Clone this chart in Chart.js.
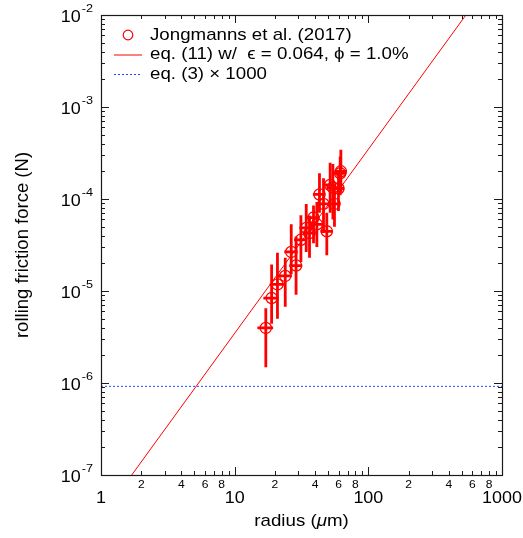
<!DOCTYPE html>
<html>
<head>
<meta charset="utf-8">
<script src="https://cdn.jsdelivr.net/npm/chart.js@4.4.1/dist/chart.umd.min.js"></script>
<style>
  html, body { margin: 0; padding: 0; background: #fff; }
  canvas { display: block; }
</style>
</head>
<body>
<canvas id="c" width="523" height="538"></canvas>
<script>
// Measured rolling friction forces (Jongmanns et al. 2017)
const radius    = [17.1, 18.9, 20.9, 23.9, 26.5, 28.8, 31.3, 34.3, 36.3, 38.9, 41.2, 43.1, 46.2, 48.9, 51.8, 54.3, 55.8, 59.8, 62.3, 61.6];
const radiusErr = [2.3, 2.5, 2.6, 2.9, 3.0, 3.2, 3.5, 3.8, 4.0, 4.2, 4.4, 4.6, 4.9, 5.1, 5.3, 5.6, 5.8, 6.1, 6.3, 6.3];
const force     = [3.97e-6, 8.37e-6, 1.18e-5, 1.46e-5, 2.66e-5, 1.89e-5, 3.6e-5, 4.85e-5, 4.27e-5, 6.28e-5, 5.3e-5, 1.12e-4, 8.85e-5, 4.45e-5, 1.42e-4, 1.33e-4, 8.85e-5, 1.30e-4, 2.0e-4, 1.9e-4];
const forceLow  = [1.48e-6, 4.4e-6, 5.0e-6, 6.75e-6, 1.52e-5, 9.1e-6, 2.06e-5, 2.66e-5, 2.3e-5, 3.3e-5, 3.0e-5, 7.1e-5, 4.27e-5, 2.44e-5, 7.1e-5, 6.0e-5, 5.0e-5, 7.4e-5, 1.19e-4, 1.1e-4];
const forceHigh = [6.5e-6, 1.94e-5, 2.6e-5, 2.3e-5, 5.3e-5, 3.92e-5, 6.67e-5, 8.85e-5, 6.6e-5, 8.5e-5, 9.3e-5, 1.91e-4, 1.68e-4, 7.1e-5, 2.48e-4, 2.4e-4, 1.42e-4, 2.0e-4, 3.43e-4, 2.9e-4];

// eq. (11) model line end points and eq. (3) x 1000 level
const modelRadius = [1, 1000];
const modelForce  = [3.47e-8, 3.47e-2];
const floorRadius = [1, 1000];
const floorForce  = [9.2e-7, 9.2e-7];

// Axis ticks
const xMajorTicks = [1, 10, 100, 1000];
const xMinorLabels = [2, 4, 6, 8];
const yMajorExponents = [-7, -6, -5, -4, -3, -2];

const legendLabels = [
  'Jongmanns et al. (2017)',
  'eq. (11) w/  \u03F5 = 0.064, \u03D5 = 1.0%',
  'eq. (3) \u00D7 1000'
];
const xTitle = ['radius (', '\u03BC', 'm)'];
const yTitle = 'rolling friction force (N)';

const FONT = '"Liberation Sans", Arial, Helvetica, sans-serif';
const RED = '#ff0000';
const BLUE = '#2448ff';

function drawText(ctx, s, x, y, size, align, sx, style) {
  ctx.save();
  ctx.font = (style || '') + ' ' + size + 'px ' + FONT;
  ctx.textBaseline = 'middle';
  ctx.textAlign = 'left';
  const w = ctx.measureText(s).width * sx;
  let x0 = x;
  if (align === 'center') x0 = x - w / 2;
  else if (align === 'right') x0 = x - w;
  ctx.translate(x0, y);
  ctx.scale(sx, 1);
  ctx.fillText(s, 0, 0);
  ctx.restore();
  return w;
}
function textWidth(ctx, s, size, sx, style) {
  ctx.save();
  ctx.font = (style || '') + ' ' + size + 'px ' + FONT;
  const w = ctx.measureText(s).width * sx;
  ctx.restore();
  return w;
}

const errorBars = {
  id: 'errorBars',
  beforeDatasetsDraw(chart) {
    const { ctx, chartArea: a } = chart;
    const xs = chart.scales.x, ys = chart.scales.y;
    ctx.save();
    ctx.beginPath();
    ctx.rect(a.left, a.top, a.right - a.left, a.bottom - a.top);
    ctx.clip();
    ctx.strokeStyle = RED;
    ctx.lineWidth = 2.8;
    ctx.lineCap = 'butt';
    for (let i = 0; i < radius.length; i++) {
      const px = xs.getPixelForValue(radius[i]);
      const py = ys.getPixelForValue(force[i]);
      ctx.beginPath();
      ctx.moveTo(px, ys.getPixelForValue(forceLow[i]));
      ctx.lineTo(px, ys.getPixelForValue(forceHigh[i]));
      ctx.moveTo(xs.getPixelForValue(radius[i] - radiusErr[i]), py);
      ctx.lineTo(xs.getPixelForValue(radius[i] + radiusErr[i]), py);
      ctx.stroke();
    }
    ctx.restore();
  }
};

const frameAndLabels = {
  id: 'frameAndLabels',
  afterDraw(chart) {
    const { ctx, chartArea: a } = chart;
    const xs = chart.scales.x, ys = chart.scales.y;
    ctx.save();
    ctx.fillStyle = '#000';
    ctx.strokeStyle = '#1a1a1a';
    ctx.lineWidth = 1;

    // tick marks on all four sides, pointing inward
    ctx.beginPath();
    for (let k = 0; k <= 3; k++) {
      for (let m = 1; m <= 9; m++) {
        const v = m * Math.pow(10, k);
        if (v > 1000) break;
        const px = Math.round(xs.getPixelForValue(v)) + 0.5;
        const len = m === 1 ? 8 : 4;
        ctx.moveTo(px, a.bottom); ctx.lineTo(px, a.bottom - len);
        ctx.moveTo(px, a.top); ctx.lineTo(px, a.top + len);
      }
    }
    for (let e = -7; e <= -2; e++) {
      for (let m = 1; m <= 9; m++) {
        const v = m * Math.pow(10, e);
        if (v > 1e-2 * 1.0001) break;
        const py = Math.round(ys.getPixelForValue(v)) + 0.5;
        const len = m === 1 ? 8 : 4;
        ctx.moveTo(a.left, py); ctx.lineTo(a.left + len, py);
        ctx.moveTo(a.right, py); ctx.lineTo(a.right - len, py);
      }
    }
    ctx.stroke();

    // frame
    ctx.lineWidth = 1.2;
    ctx.strokeRect(Math.round(a.left) + 0.5, Math.round(a.top) + 0.5,
                   Math.round(a.right - a.left), Math.round(a.bottom - a.top));

    // x tick labels
    xMajorTicks.forEach(v => {
      drawText(ctx, String(v), xs.getPixelForValue(v), a.bottom + 24, 16, 'center', 1.12);
    });
    for (let k = 0; k < 3; k++) {
      xMinorLabels.forEach(m => {
        drawText(ctx, String(m), xs.getPixelForValue(m * Math.pow(10, k)), a.bottom + 10, 11.5, 'center', 1.05);
      });
    }

    // y tick labels: 10 with superscript exponent
    yMajorExponents.forEach(e => {
      const py = ys.getPixelForValue(Math.pow(10, e));
      const sup = String(e);
      const supW = textWidth(ctx, sup, 11.5, 1.1);
      const right = a.left - 8;
      drawText(ctx, sup, right, py - 6, 11.5, 'right', 1.1);
      drawText(ctx, '10', right - supW - 1, py + 3, 16, 'right', 1.12);
    });

    // axis titles
    const tSize = 17, tsx = 1.1;
    const w0 = textWidth(ctx, xTitle[0], tSize, tsx);
    const w1 = textWidth(ctx, xTitle[1], tSize, tsx, 'italic');
    const w2 = textWidth(ctx, xTitle[2], tSize, tsx);
    let tx = (a.left + a.right) / 2 - (w0 + w1 + w2) / 2;
    const ty = 521;
    drawText(ctx, xTitle[0], tx, ty, tSize, 'left', tsx);
    drawText(ctx, xTitle[1], tx + w0, ty, tSize, 'left', tsx, 'italic');
    drawText(ctx, xTitle[2], tx + w0 + w1, ty, tSize, 'left', tsx);

    ctx.save();
    ctx.translate(23, (a.top + a.bottom) / 2);
    ctx.rotate(-Math.PI / 2);
    drawText(ctx, yTitle, 0, 0, 18.5, 'center', 1.0);
    ctx.restore();

    // legend
    const rows = [35, 54.5, 74];
    const textX = 150;
    ctx.strokeStyle = RED;
    ctx.lineWidth = 1.2;
    ctx.beginPath();
    ctx.arc(128, rows[0], 4.8, 0, Math.PI * 2);
    ctx.stroke();
    ctx.lineWidth = 1;
    ctx.beginPath();
    ctx.moveTo(114, rows[1] + 0.5); ctx.lineTo(142, rows[1] + 0.5);
    ctx.stroke();
    ctx.strokeStyle = BLUE;
    ctx.setLineDash([2, 2]);
    ctx.beginPath();
    ctx.moveTo(114, rows[2] + 0.5); ctx.lineTo(142, rows[2] + 0.5);
    ctx.stroke();
    ctx.setLineDash([]);
    ctx.fillStyle = '#000';
    legendLabels.forEach((s, i) => drawText(ctx, s, textX, rows[i], 17, 'left', 1.1));

    ctx.restore();
  }
};

new Chart(document.getElementById('c'), {
  type: 'scatter',
  data: {
    datasets: [
      {
        type: 'line',
        data: modelRadius.map((r, i) => ({ x: r, y: modelForce[i] })),
        borderColor: RED,
        borderWidth: 1,
        pointRadius: 0,
        fill: false,
        order: 2
      },
      {
        type: 'line',
        data: floorRadius.map((r, i) => ({ x: r, y: floorForce[i] })),
        borderColor: BLUE,
        borderWidth: 1,
        borderDash: [2, 2],
        pointRadius: 0,
        fill: false,
        order: 3
      },
      {
        data: radius.map((r, i) => ({ x: r, y: force[i] })),
        pointStyle: 'circle',
        pointRadius: 5.6,
        pointBorderWidth: 1.3,
        borderColor: RED,
        backgroundColor: 'rgba(0,0,0,0)',
        showLine: false,
        order: 1
      }
    ]
  },
  options: {
    responsive: false,
    animation: false,
    events: [],
    layout: { padding: { left: 101, right: 21, top: 15, bottom: 63 } },
    plugins: { legend: { display: false }, tooltip: { enabled: false } },
    scales: {
      x: { type: 'logarithmic', min: 1, max: 1000, display: false },
      y: { type: 'logarithmic', min: 1e-7, max: 1e-2, display: false }
    }
  },
  plugins: [errorBars, frameAndLabels]
});
</script>
</body>
</html>
